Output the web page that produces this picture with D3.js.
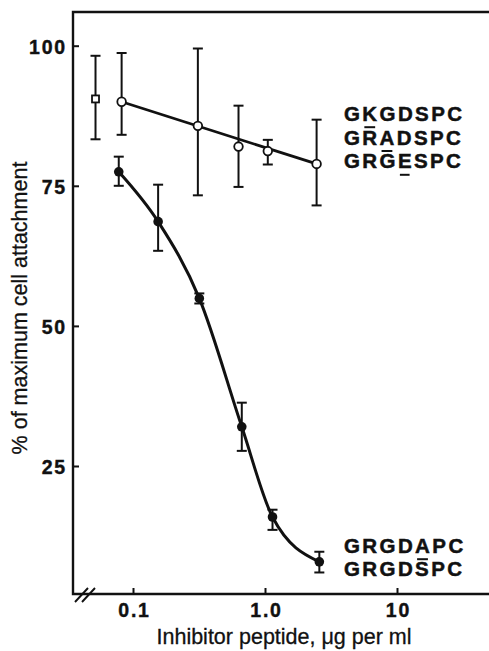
<!DOCTYPE html>
<html>
<head>
<meta charset="utf-8">
<script src="https://cdn.jsdelivr.net/npm/d3@7"></script>
<style>
  body { margin: 0; background: #fff; }
  svg { display: block; }
  text { font-family: "Liberation Sans", Arial, Helvetica, sans-serif; fill: #111; }
</style>
</head>
<body>
<div id="chart-area"></div>
<script>
// dane
const xTicks = [0.1, 1, 10];
const xTickLabels = ["0.1", "1.0", "10"];
const yTicks = [25, 50, 75, 100];

// kontrola (kwadrat), bez inhibitora
const ctrlX = [0.052];
const ctrlY = [90.5];
const ctrlHi = [98.2];
const ctrlLo = [83.3];

// peptydy kontrolne (puste kolka)
const openX = [0.082, 0.31, 0.63, 1.05, 2.46];
const openY = [90.0, 85.7, 82.0, 81.2, 78.9];
const openHi = [98.7, 99.5, 89.3, 83.2, 86.8];
const openLo = [84.1, 73.3, 74.8, 78.8, 71.5];
const fitX = [0.082, 2.46];
const fitY = [90.0, 78.9];

// GRGDSPC / GRGDAPC (pelne kolka)
const fullX = [0.078, 0.155, 0.318, 0.667, 1.14, 2.58];
const fullY = [77.5, 68.6, 54.9, 32.0, 15.9, 7.9];
const fullHi = [80.2, 75.2, 55.8, 36.3, 17.2, 9.7];
const fullLo = [75.0, 63.4, 54.0, 27.7, 13.6, 6.0];

const topLabels = ["GKGDSPC", "GRADSPC", "GRGESPC"];
const topUnderline = [1, 2, 3];
const bottomLabels = ["GRGDAPC", "GRGDSPC"];
const bottomUnderline = [4, -1];

const W = 489, H = 651;
const axLeft = 73, axTop = 12, axBottom = 594;
const ink = "#111";

const svg = d3.select("#chart-area").append("svg")
    .attr("width", W)
    .attr("height", H);

const x = d3.scaleLog().domain([0.1, 10]).range([133, 397]);
const y = d3.scaleLinear().domain([25, 100]).range([466, 45.7]);

// ramka
const frame = svg.append("g").attr("stroke", ink).attr("stroke-width", 2.4).attr("fill", "none");
frame.append("path").attr("d", `M${W},${axTop}H${axLeft}V${axBottom}H${W}`);
// przerwa na osi x
frame.append("path").attr("stroke-width", 1.9)
    .attr("d", "M75,602L88,588M82,602L95,588");

// osie
const xAxis = svg.append("g")
    .attr("transform", `translate(0,${axBottom})`)
    .call(d3.axisBottom(x).tickValues(xTicks).tickSize(-6).tickFormat((d, i) => xTickLabels[i]));
xAxis.select(".domain").remove();
xAxis.selectAll("line").attr("stroke", ink).attr("stroke-width", 2);
xAxis.selectAll("text")
    .attr("y", 23).attr("dy", 0)
    .attr("dx", 1)
    .style("font-size", "19.5px").style("font-weight", "bold").style("letter-spacing", "1.8px")
    .attr("fill", ink).attr("stroke", ink).attr("stroke-width", 0.4);

const yAxis = svg.append("g")
    .attr("transform", `translate(${axLeft},0)`)
    .call(d3.axisLeft(y).tickValues(yTicks).tickSize(-6).tickFormat(d3.format("d")));
yAxis.select(".domain").remove();
yAxis.selectAll("line").attr("stroke", ink).attr("stroke-width", 2);
yAxis.selectAll("text")
    .attr("x", -6).attr("dy", 7.8)
    .style("font-size", "19.5px").style("font-weight", "bold").style("letter-spacing", "1.8px")
    .attr("fill", ink).attr("stroke", ink).attr("stroke-width", 0.4);

// tytuly osi
svg.append("text")
    .attr("x", 284).attr("y", 644)
    .attr("text-anchor", "middle")
    .style("font-size", "21.5px")
    .attr("stroke", ink).attr("stroke-width", 0.3)
    .text("Inhibitor peptide, \u03BCg per ml");

svg.append("text")
    .attr("transform", "translate(27,308) rotate(-90)")
    .attr("text-anchor", "middle")
    .style("font-size", "21.5px")
    .attr("stroke", ink).attr("stroke-width", 0.3)
    .text("% of maximum cell attachment");

// slupki bledow
function errorBars(xs, hi, lo) {
    const g = svg.append("g").attr("stroke", ink).attr("stroke-width", 2);
    xs.forEach((xv, i) => {
        const cx = x(xv);
        g.append("line").attr("x1", cx).attr("x2", cx).attr("y1", y(hi[i])).attr("y2", y(lo[i]));
        g.append("line").attr("x1", cx - 5).attr("x2", cx + 5).attr("y1", y(hi[i])).attr("y2", y(hi[i]));
        g.append("line").attr("x1", cx - 5).attr("x2", cx + 5).attr("y1", y(lo[i])).attr("y2", y(lo[i]));
    });
}
errorBars(ctrlX, ctrlHi, ctrlLo);
errorBars(openX, openHi, openLo);
errorBars(fullX, fullHi, fullLo);

// linia prosta dla pustych kolek
svg.append("path")
    .datum(fitX.map((d, i) => [d, fitY[i]]))
    .attr("fill", "none").attr("stroke", ink).attr("stroke-width", 2.8)
    .attr("d", d3.line().x(d => x(d[0])).y(d => y(d[1])));

// krzywa dla pelnych kolek
svg.append("path")
    .datum(fullX.map((d, i) => [d, fullY[i]]))
    .attr("fill", "none").attr("stroke", ink).attr("stroke-width", 3)
    .attr("d", d3.line().x(d => x(d[0])).y(d => y(d[1])).curve(d3.curveMonotoneX));

// punkty
svg.selectAll("rect.ctrl").data(ctrlX).enter()
    .append("rect").attr("class", "ctrl")
    .attr("x", d => x(d) - 3.5).attr("y", (d, i) => y(ctrlY[i]) - 3.5)
    .attr("width", 7).attr("height", 7)
    .attr("fill", "#fff").attr("stroke", ink).attr("stroke-width", 1.8);

svg.selectAll("circle.open").data(openX).enter()
    .append("circle").attr("class", "open")
    .attr("cx", d => x(d)).attr("cy", (d, i) => y(openY[i])).attr("r", 4.3)
    .attr("fill", "#fff").attr("stroke", ink).attr("stroke-width", 1.8);

svg.selectAll("circle.full").data(fullX).enter()
    .append("circle").attr("class", "full")
    .attr("cx", d => x(d)).attr("cy", (d, i) => y(fullY[i])).attr("r", 4.8)
    .attr("fill", ink);

// etykiety peptydow z podkresleniem
const labelSpacing = 2.4;
function labels(list, under, x0, y0, step) {
    list.forEach((s, i) => {
        const t = svg.append("text")
            .attr("x", x0).attr("y", y0 + i * step)
            .style("font-size", "20.5px").style("font-weight", "bold").style("letter-spacing", labelSpacing + "px")
            .attr("stroke", ink).attr("stroke-width", 0.5)
            .text(s);
        if (under[i] >= 0) {
            const b = t.node().getExtentOfChar(under[i]);
            svg.append("line")
                .attr("x1", b.x + 2).attr("x2", b.x + b.width - labelSpacing - 2)
                .attr("y1", y0 + i * step + 6.5).attr("y2", y0 + i * step + 6.5)
                .attr("stroke", ink).attr("stroke-width", 2);
        }
    });
}
labels(topLabels, topUnderline, 344, 120.7, 23.8);
labels(bottomLabels, bottomUnderline, 344, 552.7, 23.3);
</script>
</body>
</html>
